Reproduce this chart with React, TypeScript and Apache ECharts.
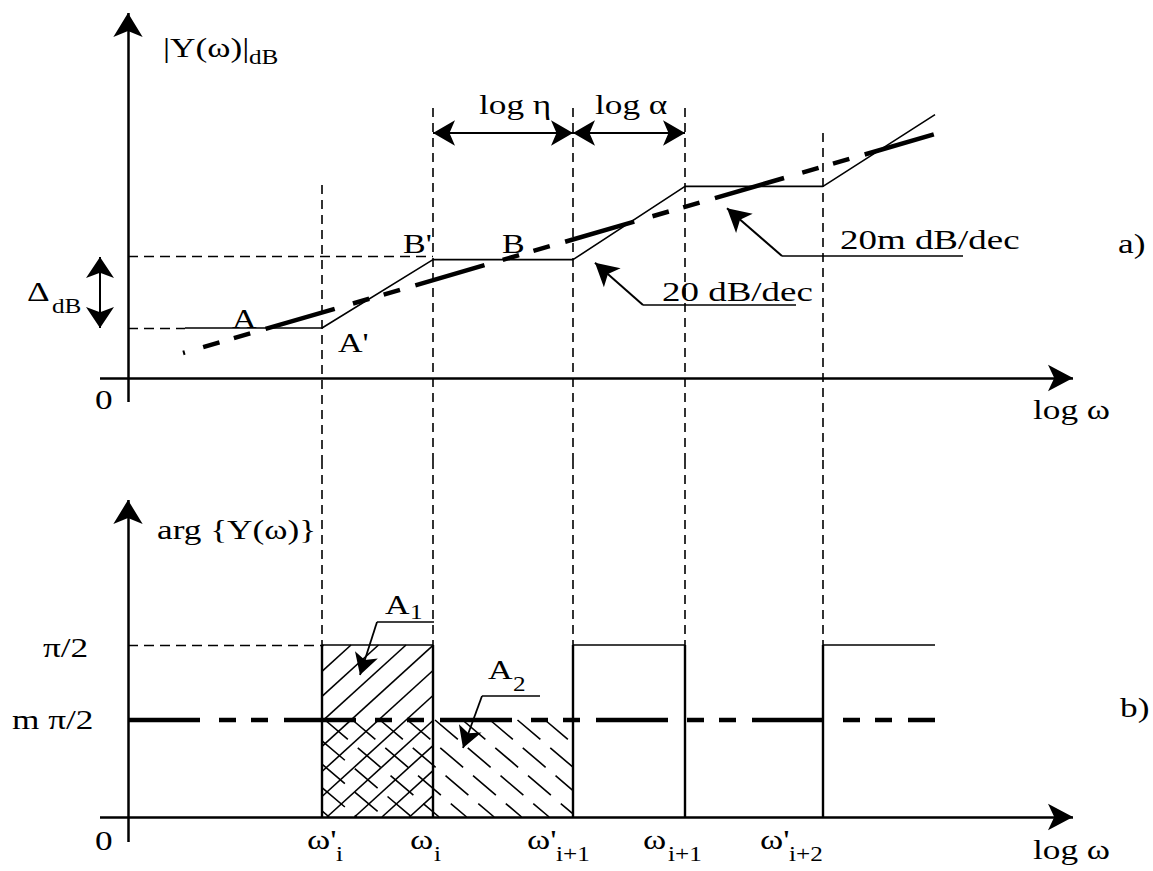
import React, { useEffect, useRef } from "react";
import * as echarts from "echarts";

// ---------------- data (x: log ω, decades measured from the vertical axis) ----------------
const breakMain = ["ω'", "ω", "ω'", "ω", "ω'"];
const breakSub = ["i", "i", "i+1", "i+1", "i+2"];
const breaks = [1.94, 3.05, 4.45, 5.57, 6.95];
const guideTopDb = [57.9, 81, 81, 81, 73.5];

// a) magnitude |Y(ω)| in dB
const magX = [0.57, 1.94, 3.05, 4.45, 5.57, 6.95, 8.07];
const magDb = [15, 15, 35.5, 35.5, 57.5, 57.5, 79];
const asymX = [0.55, 8.07];
const asymDb = [7.5, 73.2];
const levelA = 15;
const levelB = 36.5;

// b) phase arg{Y(ω)} in units of π/2
const argHighSegments = [
  [1.94, 3.05],
  [4.45, 5.57],
  [6.95, 8.07],
];
const argHigh = 1;
const argMean = 0.564;
const argMeanEnd = 8.07;
const hatchRegions = [
  [1.94, 3.05, 0, 1],
  [1.94, 4.45, 0, 0.564],
];

// ---------------- layout / styles ----------------
const X_MIN = -1.28;
const X_MAX = 10.25;
const TOP_MIN = -147.9;
const TOP_MAX = 113.4;
const BOT_MIN = -54 / 172;
const BOT_MAX = 817 / 172;
const TOP_SPLIT = -24.6;
const BOT_SPLIT = 357 / 172;

const FONT = "Liberation Serif";
const BLACK = "#000";
const DASH_THICK = [72, 19, 17, 15, 17, 16];
const DASH_GUIDE = [9, 6];
const DASH_LEVEL = [10, 6];

const hatchStyles = [
  { dir: 1, slope: 0.91, step: 27.5, phase: 1.5, dash: null as number[] | null },
  { dir: -1, slope: 0.85, step: 27.5, phase: 3, dash: [30, 13] },
];

type Pt = [number, number];

const ls = (width: number, type: any = "solid") => ({ color: BLACK, width, type });

function seg(a: Pt, b: Pt, style: any, s0 = "none", s1 = "none", size: number[] = [15, 22]) {
  return [
    { coord: a, symbol: s0, symbolSize: size, lineStyle: style, itemStyle: { color: BLACK } },
    { coord: b, symbol: s1, symbolSize: size, itemStyle: { color: BLACK } },
  ];
}

function markLine(data: any[]) {
  return {
    silent: true,
    animation: false,
    symbol: "none",
    label: { show: false },
    emphasis: { disabled: true },
    lineStyle: { color: BLACK, width: 1.5, type: "solid" },
    data,
  };
}

function lineSeries(data: Pt[], yAxisIndex: number, width: number, type: any = "solid", dashOffset = 0, extra: any = {}) {
  return {
    type: "line",
    data,
    yAxisIndex,
    symbol: "none",
    showSymbol: false,
    silent: true,
    z: 3,
    color: BLACK,
    itemStyle: { color: BLACK },
    lineStyle: { color: BLACK, width, type, dashOffset, cap: "butt" },
    emphasis: { disabled: true },
    ...extra,
  };
}

function txt(text: string, x: number, y: number, size = 28, sx = 1.26) {
  return {
    type: "text",
    x,
    y,
    scaleX: sx,
    silent: true,
    z: 100,
    style: { text, fontSize: size, fontFamily: FONT, fill: BLACK, align: "left", verticalAlign: "middle" },
  };
}

function hatchSegments(L: number, T: number, R: number, B: number, st: any) {
  const out: number[][] = [];
  const w = (B - T) / st.slope;
  for (let k = -80; k <= 80; k++) {
    const xk = L + st.phase + k * st.step;
    let xa: number, xb: number;
    if (st.dir > 0) {
      xa = Math.max(L, xk - w);
      xb = Math.min(R, xk);
      if (xb - xa > 0.5) out.push([xa, T + st.slope * (xk - xa), xb, T + st.slope * (xk - xb)]);
    } else {
      xa = Math.max(L, xk);
      xb = Math.min(R, xk + w);
      if (xb - xa > 0.5) out.push([xa, T + st.slope * (xa - xk), xb, T + st.slope * (xb - xk)]);
    }
  }
  return out;
}

const AXIS_HEAD = [22, 24];
const DIM_HEAD = [19, 22];
const LEAD_HEAD = [19, 23];

function buildOption() {
  const topMarks = [
    // axes
    seg([0, -7.2], [0, 109.5], ls(2.5), "none", "arrow", AXIS_HEAD),
    seg([-0.28, 0], [9.45, 0], ls(2.5), "none", "arrow", [20, 25]),
    // level guides
    seg([0, levelA], [magX[0], levelA], ls(1.4, DASH_LEVEL)),
    seg([0, levelB], [breaks[1], levelB], ls(1.4, DASH_LEVEL)),
    // vertical guides (upper part)
    ...breaks.map((b, i) => seg([b, guideTopDb[i]], [b, TOP_SPLIT], ls(1.6, DASH_GUIDE))),
    // Δ dB arrow
    seg([-0.28, 15], [-0.28, 36.3], ls(2), "arrow", "arrow", [21, 21]),
    // log η, log α
    seg([breaks[1], 73.5], [breaks[2], 73.5], ls(1.8), "arrow", "arrow", DIM_HEAD),
    seg([breaks[2], 73.5], [breaks[3], 73.5], ls(1.8), "arrow", "arrow", DIM_HEAD),
    // 20 dB/dec leader
    seg([5.15, 21.9], [6.68, 21.9], ls(1.5)),
    seg([5.15, 21.9], [4.67, 34.6], ls(2), "none", "arrow", LEAD_HEAD),
    // 20m dB/dec leader
    seg([6.54, 36.6], [8.35, 36.6], ls(1.5)),
    seg([6.54, 36.6], [5.99, 50.9], ls(2), "none", "arrow", LEAD_HEAD),
  ];

  const botMarks = [
    seg([0, -0.145], [0, 1.843], ls(2.5), "none", "arrow", AXIS_HEAD),
    seg([-0.28, 0], [9.45, 0], ls(2.5), "none", "arrow", [20, 25]),
    ...breaks.map((b) => seg([b, BOT_SPLIT], [b, argHigh], ls(1.6, DASH_GUIDE))),
    ...breaks.map((b) => seg([b, 0], [b, argHigh], ls(2.4))),
    seg([0, argHigh], [breaks[0], argHigh], ls(1.4, DASH_LEVEL)),
    // A1 / A2 leaders
    seg([2.49, 1.134], [3.06, 1.134], ls(1.5)),
    seg([2.49, 1.134], [2.32, 0.826], ls(1.8), "none", "arrow", [18, 21]),
    seg([3.54, 0.7035], [4.12, 0.7035], ls(1.5)),
    seg([3.54, 0.7035], [3.35, 0.401], ls(1.8), "none", "arrow", [18, 21]),
  ];

  const series: any[] = [
    lineSeries(
      magX.map((x, i) => [x, magDb[i]] as Pt),
      0,
      1.6,
      "solid",
      0,
      { markLine: markLine(topMarks) }
    ),
    lineSeries(
      [
        [asymX[0], asymDb[0]],
        [asymX[1], asymDb[1]],
      ],
      0,
      4.5,
      DASH_THICK,
      70,
      { z: 4 }
    ),
    ...argHighSegments.map((s, i) =>
      lineSeries(
        [
          [s[0], argHigh],
          [s[1], argHigh],
        ],
        1,
        1.5,
        "solid",
        0,
        i === 0 ? { markLine: markLine(botMarks) } : {}
      )
    ),
    lineSeries(
      [
        [0, argMean],
        [argMeanEnd, argMean],
      ],
      1,
      4.5,
      DASH_THICK,
      0,
      { z: 4 }
    ),
    {
      type: "custom",
      yAxisIndex: 1,
      silent: true,
      z: 1,
      clip: false,
      data: hatchRegions,
      encode: { x: [0, 1], y: [2, 3] },
      renderItem: (params: any, api: any) => {
        const r = hatchRegions[params.dataIndex];
        const st = hatchStyles[params.dataIndex];
        const tl = api.coord([r[0], r[3]]);
        const br = api.coord([r[1], r[2]]);
        const segs = hatchSegments(tl[0], tl[1], br[0], br[1], st);
        return {
          type: "group",
          children: segs.map((s) => ({
            type: "line",
            shape: { x1: s[0], y1: s[1], x2: s[2], y2: s[3] },
            style: { stroke: BLACK, lineWidth: 1.6, lineDash: st.dash || undefined, fill: null },
          })),
        };
      },
    },
  ];

  const breakLabelX = [307, 410, 527, 643, 760];
  const breakSubX = [336, 434, 556, 668, 789];

  const graphic: any[] = [
    txt("|Y(ω)|", 163, 48, 28),
    txt("dB", 249, 57, 20),
    txt("Δ", 27, 292, 28),
    txt("dB", 52, 306, 20),
    txt("A", 232, 319, 27),
    txt("A'", 338, 343, 27),
    txt("B'", 403, 244, 27),
    txt("B", 502, 244, 27),
    txt("log η", 479, 105, 28),
    txt("log α", 595, 105, 28),
    txt("20 dB/dec", 662, 292, 28, 1.32),
    txt("20m dB/dec", 840, 240, 28, 1.32),
    txt("a)", 1118, 244, 28),
    txt("0", 95, 400, 28),
    txt("log ω", 1033, 410, 28),
    txt("arg {Y(ω)}", 157, 530, 28),
    txt("π/2", 43, 648, 28),
    txt("m π/2", 12, 720, 28),
    txt("A", 385, 605, 27),
    txt("1", 410, 612, 20),
    txt("A", 488, 670, 27),
    txt("2", 513, 684, 20),
    txt("b)", 1120, 708, 28),
    txt("0", 95, 841, 28),
    txt("log ω", 1033, 850, 28),
    ...breakMain.map((t, i) => txt(t, breakLabelX[i], 840, 28)),
    ...breakSub.map((t, i) => txt(t, breakSubX[i], 854, 20)),
  ];

  return {
    animation: false,
    backgroundColor: "#fff",
    grid: { left: 0, right: 0, top: 0, bottom: 0, containLabel: false },
    xAxis: { type: "value", min: X_MIN, max: X_MAX, show: false },
    yAxis: [
      { type: "value", min: TOP_MIN, max: TOP_MAX, show: false },
      { type: "value", min: BOT_MIN, max: BOT_MAX, show: false },
    ],
    tooltip: { show: false },
    series,
    graphic,
  };
}

export default function App() {
  const ref = useRef<HTMLDivElement>(null);
  useEffect(() => {
    if (!ref.current) return;
    const chart = echarts.init(ref.current, undefined, { renderer: "svg" });
    chart.setOption(buildOption() as any);
    return () => chart.dispose();
  }, []);
  return (
    <div
      ref={ref}
      style={{ position: "absolute", left: 0, top: 0, width: 1153, height: 871, background: "#fff" }}
    />
  );
}
